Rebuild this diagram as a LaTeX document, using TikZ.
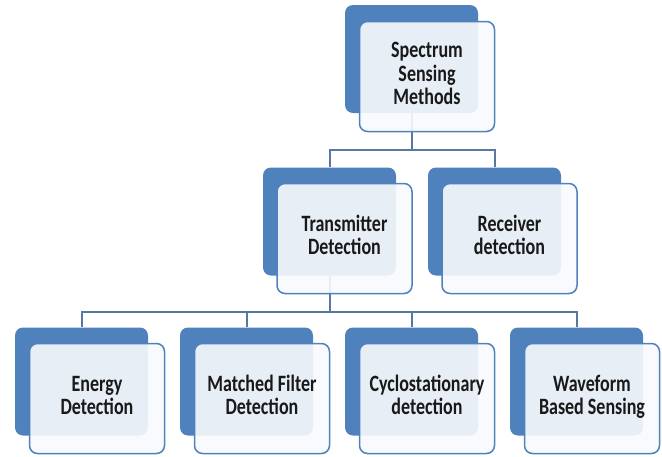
\documentclass[tikz,border=0pt]{standalone}
\usepackage{fontspec}
\usepackage{graphicx}
\setmainfont{Carlito}
\usetikzlibrary{calc}
\definecolor{accent}{RGB}{79,129,189}
\definecolor{panel}{RGB}{248,250,253}
\definecolor{wire}{RGB}{88,120,160}
\definecolor{ink}{RGB}{25,25,25}

% multi-line label with slightly tall letters
\newcommand{\lbl}[1]{\scalebox{1}[1.3]{\begin{tabular}{@{}c@{}}#1\end{tabular}}}

\tikzset{
  backcard/.style={rectangle, rounded corners=8pt, fill=accent, draw=none,
    minimum width=133pt, minimum height=108pt, inner sep=0pt},
  frontcard/.style={rectangle, rounded corners=8pt, fill=panel, fill opacity=0.9,
    text opacity=1, draw=accent, line width=1.5pt,
    minimum width=135pt, minimum height=110pt, inner sep=0pt,
    font=\fontsize{18}{17.7}\selectfont\bfseries, text=ink},
  conn/.style={draw=wire, line width=2pt}
}

\begin{document}
\begin{tikzpicture}[x=1pt,y=1pt]
\useasboundingbox (0,0) rectangle (662,-456);

% back cards first so connectors sit on them and under the front cards
\node[backcard] (btop) at (411.5,-59) {};
\node[backcard] (btx)  at (329.5,-221.5) {};
\node[backcard] (brx)  at (494.5,-221.5) {};
\node[backcard] (ben)  at (81.5,-381.5) {};
\node[backcard] (bmf)  at (246.5,-381.5) {};
\node[backcard] (bcy)  at (411.5,-381.5) {};
\node[backcard] (bwf)  at (576.5,-381.5) {};

% tree connectors
\coordinate (j1) at (411.5,-150);
\coordinate (j2) at (329.5,-312);
\draw[conn] (btop.south) -- (j1) -| (btx.north);
\draw[conn] (j1) -| (brx.north);
\draw[conn] (btx.south) -- (j2) -| (ben.north);
\draw[conn] (j2) -| (bmf.north);
\draw[conn] (j2) -| (bcy.north);
\draw[conn] (j2) -| (bwf.north);

% front cards with labels
\node[frontcard] (ftop) at ($(btop.center)+(15.5,-17.5)$) {\lbl{Spectrum\\Sensing\\Methods}};
\node[frontcard] (ftx)  at ($(btx.center)+(15,-17)$) {\lbl{Transmitter\\Detection}};
\node[frontcard] (frx)  at ($(brx.center)+(15,-17)$) {\lbl{Receiver\\detection}};
\node[frontcard] (fen)  at ($(ben.center)+(15.5,-17)$) {\lbl{Energy\\Detection}};
\node[frontcard] (fmf)  at ($(bmf.center)+(15.5,-17)$) {\lbl{Matched Filter\\Detection}};
\node[frontcard] (fcy)  at ($(bcy.center)+(15.5,-17)$) {\lbl{Cyclostationary\\detection}};
\node[frontcard] (fwf)  at ($(bwf.center)+(15.5,-17)$) {\lbl{Waveform\\Based Sensing}};
\end{tikzpicture}
\end{document}
